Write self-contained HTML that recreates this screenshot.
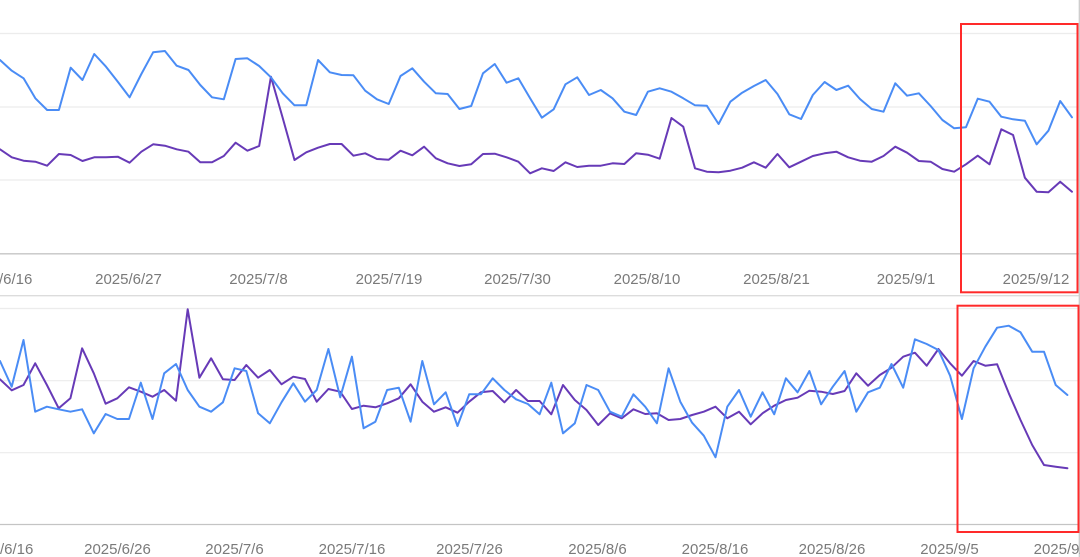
<!DOCTYPE html>
<html><head><meta charset="utf-8"><style>
html,body{margin:0;padding:0;background:#fff;}
svg{display:block;}
text{font-family:"Liberation Sans",Arial,sans-serif;font-size:15px;fill:#7a7a7a;text-anchor:middle;}
</style></head><body>
<svg width="1080" height="557" viewBox="0 0 1080 557" xmlns="http://www.w3.org/2000/svg">
<rect width="1080" height="557" fill="#fff"/>
<!-- top chart grid -->
<g stroke="#ececec" stroke-width="1.2">
<line x1="0" y1="33.5" x2="1079" y2="33.5"/>
<line x1="0" y1="107" x2="1079" y2="107"/>
<line x1="0" y1="180" x2="1079" y2="180"/>
</g>
<line x1="0" y1="253.8" x2="1079" y2="253.8" stroke="#c4c4c4" stroke-width="1.3"/>
<line x1="0" y1="295.7" x2="1079" y2="295.7" stroke="#dcdcdc" stroke-width="1.3"/>
<g stroke="#ececec" stroke-width="1.2">
<line x1="0" y1="308.5" x2="1079" y2="308.5"/>
<line x1="0" y1="380.7" x2="1079" y2="380.7"/>
<line x1="0" y1="452.7" x2="1079" y2="452.7"/>
</g>
<line x1="0" y1="524.5" x2="1079" y2="524.5" stroke="#c4c4c4" stroke-width="1.3"/>
<line x1="1079.3" y1="0" x2="1079.3" y2="557" stroke="#c8c8c8" stroke-width="1.2"/>

<!-- top labels -->
<g>
<text x="-1" y="284">2025/6/16</text>
<text x="128.5" y="284">2025/6/27</text>
<text x="258.5" y="284">2025/7/8</text>
<text x="389" y="284">2025/7/19</text>
<text x="517.5" y="284">2025/7/30</text>
<text x="647" y="284">2025/8/10</text>
<text x="776.5" y="284">2025/8/21</text>
<text x="906" y="284">2025/9/1</text>
<text x="1036" y="284">2025/9/12</text>
</g>
<!-- bottom labels -->
<g>
<text x="0" y="554">2025/6/16</text>
<text x="117.5" y="554">2025/6/26</text>
<text x="234.5" y="554">2025/7/6</text>
<text x="352" y="554">2025/7/16</text>
<text x="469.5" y="554">2025/7/26</text>
<text x="597.5" y="554">2025/8/6</text>
<text x="715" y="554">2025/8/16</text>
<text x="832" y="554">2025/8/26</text>
<text x="949.5" y="554">2025/9/5</text>
<text x="1067" y="554">2025/9/15</text>
</g>

<g fill="none" stroke-width="2" stroke-linejoin="round" stroke-linecap="round">
<!-- top purple -->
<polyline stroke="#673ab7" points="0,149.3 11.78,157.3 23.56,160.7 35.34,161.7 47.12,165.7 58.9,154 70.68,155 82.46,161 94.24,157.3 106.02,157.3 117.8,156.7 129.58,162.7 141.36,151.7 153.14,144.3 164.92,145.7 176.7,149.3 188.48,151.7 200.26,162.3 212.04,162.3 223.82,156 235.6,142.7 247.38,150.7 259.16,146 270.94,76.7 282.72,118 294.5,160 306.28,152.3 318.06,147.7 329.84,144 341.62,144 353.4,155.7 365.18,153.3 376.96,159 388.74,159.7 400.52,150.7 412.3,155.3 424.08,146.7 435.86,158.3 447.64,163.3 459.42,166 471.2,164.3 482.98,154 494.76,153.7 506.54,157.3 518.32,161.7 530.1,173.3 541.88,168.3 553.66,171 565.44,162.3 577.22,167 589,165.7 600.78,165.7 612.56,163.3 624.34,164 636.12,153.3 647.9,154.7 659.68,158.7 671.46,118 683.24,126.7 695.02,168.3 706.8,171.7 718.58,172.3 730.36,170.7 742.14,167.7 753.92,162.3 765.7,167.7 777.48,154 789.26,167.3 801.04,161.7 812.82,156 824.6,153.3 836.38,151.7 848.16,157.3 859.94,160.7 871.72,161.7 883.5,156 895.28,146.7 907.06,152.7 918.84,161 930.62,161.7 942.4,169 954.18,171.7 965.96,164.3 977.74,155.7 989.52,164.3 1001.3,129.3 1013.08,135 1024.86,177.7 1036.64,191.7 1048.42,192.3 1060.2,181.7 1071.98,191.7"/>
<!-- top blue -->
<polyline stroke="#4a8cf5" points="0,60 11.78,70.7 23.56,78.3 35.34,98.3 47.12,110 58.9,110 70.68,67.7 82.46,80 94.24,54 106.02,66.7 117.8,81.7 129.58,97.3 141.36,74 153.14,52.3 164.92,51 176.7,65.7 188.48,70 200.26,85 212.04,97.3 223.82,99.3 235.6,59 247.38,58.3 259.16,66 270.94,77.3 282.72,93.3 294.5,105.3 306.28,105.3 318.06,60 329.84,72.3 341.62,75 353.4,75.3 365.18,90.7 376.96,99.3 388.74,104 400.52,76 412.3,68.3 424.08,81.7 435.86,93.3 447.64,94 459.42,109 471.2,106 482.98,73.3 494.76,64 506.54,82.7 518.32,78.3 530.1,98.3 541.88,117.7 553.66,109.3 565.44,84.3 577.22,77.3 589,95 600.78,90 612.56,98.3 624.34,111.7 636.12,115 647.9,91.7 659.68,88.3 671.46,91.7 683.24,98.3 695.02,105.3 706.8,105.7 718.58,124 730.36,101.7 742.14,92.7 753.92,86 765.7,80 777.48,94 789.26,114.3 801.04,119 812.82,95 824.6,82 836.38,90 848.16,85.7 859.94,99 871.72,109 883.5,111.7 895.28,83.3 907.06,95.7 918.84,93.3 930.62,106 942.4,120 954.18,128.3 965.96,127.3 977.74,98.7 989.52,101.7 1001.3,116.7 1013.08,119.3 1024.86,120.7 1036.64,144.3 1048.42,130.7 1060.2,101 1071.98,117.3"/>
<!-- bottom purple -->
<polyline stroke="#673ab7" points="0,379.3 11.7,390.3 23.5,385 35.2,363.3 46.9,385 58.7,408.3 70.4,398.3 82.1,348.3 93.8,373.3 105.6,403.7 117.3,398.3 129,387.3 140.8,391.7 152.5,396.7 164.2,390 176,400.7 187.7,309.3 199.4,377.7 211.1,358.3 222.9,379.3 234.6,380 246.3,365 258.1,377.7 269.8,370 281.5,384.3 293.3,376.7 305,379 316.7,401.7 328.4,389 340.2,391.7 351.9,409 363.6,405.7 375.4,407.3 387.1,403.3 398.8,398.3 410.6,384.3 422.3,401.7 434,411.7 445.7,407.3 457.5,412.7 469.2,401.7 480.9,392.3 492.7,391 504.4,402.3 516.1,390 527.9,401 539.6,401 551.3,414.3 563,385 574.8,400 586.5,410 598.2,425 610,413.3 621.7,418.3 633.4,409.3 645.2,414 656.9,413.3 668.6,420 680.3,419 692.1,415 703.8,411.7 715.5,406.7 727.3,418.3 739,411.7 750.7,424.3 762.5,413.3 774.2,405.7 785.9,400 797.6,397.7 809.4,390.7 821.1,391.7 832.8,394 844.6,391 856.3,373.3 868,385.7 879.8,375 891.5,367.7 903.2,356.7 914.9,352.7 926.7,365.7 938.4,349 950.1,363.3 961.9,375.7 973.6,361 985.3,365.7 997.1,364.3 1008.8,393.3 1020.5,420 1032.2,445 1044,465 1055.7,466.7 1067.4,468.3"/>
<!-- bottom blue -->
<polyline stroke="#4a8cf5" points="0,361 11.7,386.7 23.5,340 35.2,411.7 46.9,406.7 58.7,409.3 70.4,411.7 82.1,409.3 93.8,433.3 105.6,414 117.3,419 129,419 140.8,382.7 152.5,419 164.2,373.3 176,364 187.7,390 199.4,406.7 211.1,411.7 222.9,402.3 234.6,368.3 246.3,371 258.1,413.3 269.8,423.3 281.5,402.3 293.3,383.3 305,401.7 316.7,390 328.4,349 340.2,397.3 351.9,356.7 363.6,428.3 375.4,421.7 387.1,390 398.8,387.7 410.6,421.7 422.3,361 434,404.3 445.7,392.3 457.5,426 469.2,394.3 480.9,394.3 492.7,378.3 504.4,390 516.1,399.3 527.9,404 539.6,414.3 551.3,382.7 563,433.3 574.8,423.3 586.5,385 598.2,390 610,411.7 621.7,416.7 633.4,394.3 645.2,406.7 656.9,423.3 668.6,368.3 680.3,401.7 692.1,422.7 703.8,435.7 715.5,457.3 727.3,406.7 739,390 750.7,416.7 762.5,392.3 774.2,414.3 785.9,378.3 797.6,392.3 809.4,371 821.1,404.3 832.8,386.7 844.6,371 856.3,411.7 868,392.3 879.8,387.7 891.5,364 903.2,387.7 914.9,339.3 926.7,344 938.4,350 950.1,375.7 961.9,419 973.6,368.3 985.3,346.7 997.1,327.7 1008.8,325.7 1020.5,332.3 1032.2,351.7 1044,351.7 1055.7,385 1067.4,395"/>
</g>

<!-- red highlight boxes -->
<rect x="961" y="24" width="116.5" height="268.3" fill="none" stroke="#ff2a2a" stroke-width="2"/>
<rect x="957.5" y="305.7" width="121" height="226.3" fill="none" stroke="#ff2a2a" stroke-width="2"/>
</svg>
</body></html>
